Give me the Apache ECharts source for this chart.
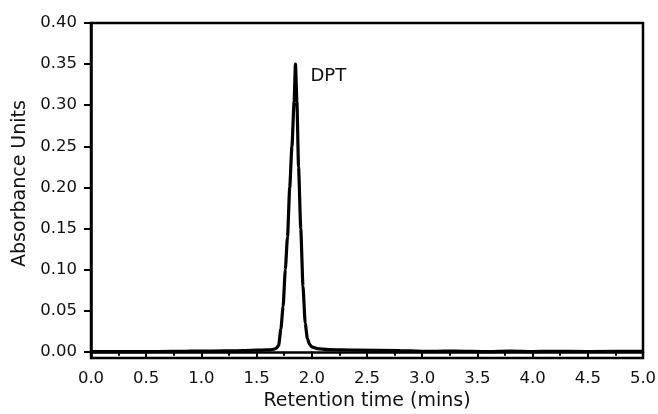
<!DOCTYPE html>
<html>
<head>
<meta charset="utf-8">
<style>
html,body{margin:0;padding:0;background:#fff;}
#chart{width:658px;height:414px;}
</style>
<script src="https://cdn.jsdelivr.net/npm/echarts@6/dist/echarts.min.js"></script>
</head>
<body>
<div id="chart"></div>
<script>
const retentionTime = [0.00,0.30,0.60,0.85,0.95,1.10,1.30,1.45,1.55,1.62,1.66,1.68,1.70,1.72,1.74,1.76,1.78,1.80,1.82,1.84,1.852,1.865,1.88,1.90,1.92,1.94,1.96,1.98,2.00,2.05,2.15,2.40,2.80,3.10,3.30,3.60,3.80,4.00,4.20,4.50,5.00];
const absorbance = [0.0003,0.0003,0.0004,0.0006,0.0010,0.0010,0.0012,0.0018,0.0022,0.0025,0.0032,0.0045,0.0080,0.028,0.055,0.100,0.140,0.200,0.250,0.305,0.350,0.305,0.225,0.150,0.080,0.035,0.016,0.009,0.006,0.004,0.0028,0.0022,0.0015,0.0005,0.0010,0.0003,0.0008,0.0003,0.0006,0.0004,0.0005];
const yTickValues = [0,0.05,0.10,0.15,0.20,0.25,0.30,0.35,0.40];
const peakLabel = {name:'DPT', time:1.852, value:0.350};

const chart = echarts.init(document.getElementById('chart'));
const font = 'DejaVu Sans, sans-serif';
chart.setOption({
  animation:false,
  backgroundColor:'#fff',
  grid:{left:91,right:15,top:23,bottom:56,show:true,borderColor:'#000',borderWidth:2.5,containLabel:false,outerBoundsMode:'none'},
  xAxis:{
    type:'value',min:0,max:5,interval:0.5,
    name:'Retention time (mins)',nameLocation:'middle',nameGap:32,
    nameTextStyle:{fontFamily:font,fontSize:19,color:'#111'},
    axisLine:{show:true,lineStyle:{color:'#000',width:2.5}},
    axisTick:{show:true,inside:false,length:6,lineStyle:{color:'#000',width:2}},
    minorTick:{show:true,splitNumber:2,length:4,lineStyle:{color:'#000',width:2}},
    axisLabel:{fontFamily:font,fontSize:16.5,color:'#111',margin:12,formatter:v=>v.toFixed(1)},
    splitLine:{show:false}
  },
  yAxis:{
    type:'value',min:-0.0075,max:0.40,
    name:'Absorbance Units',nameLocation:'middle',nameGap:60,nameRotate:90,
    nameTextStyle:{fontFamily:font,fontSize:19,color:'#111',padding:[0,0,0,14]},
    axisLine:{show:true,lineStyle:{color:'#000',width:2.5}},
    axisTick:{show:true,inside:false,length:7,lineStyle:{color:'#000',width:2},customValues:yTickValues},
    axisLabel:{fontFamily:font,fontSize:16.5,color:'#111',margin:14,customValues:yTickValues,formatter:v=>v.toFixed(2)},
    splitLine:{show:false}
  },
  series:[{
    type:'line',
    data:retentionTime.map((t,i)=>[t,absorbance[i]]),
    showSymbol:false,
    smooth:0.2,
    smoothMonotone:'x',
    lineStyle:{color:'#000',width:3.2},
    markPoint:{
      symbol:'circle',symbolSize:0,
      data:[{coord:[peakLabel.time,peakLabel.value]}],
      label:{show:true,formatter:peakLabel.name,position:[15,12],align:'left',verticalAlign:'middle',fontFamily:font,fontSize:18,color:'#111'}
    }
  }]
});
</script>
</body>
</html>
